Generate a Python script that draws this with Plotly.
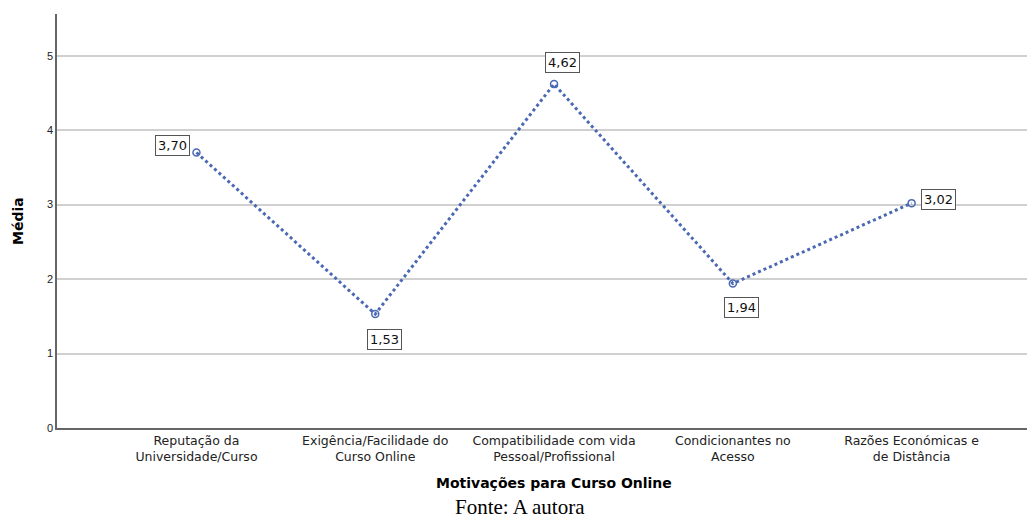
import plotly.graph_objects as go

categories = ["Reputação da<br>Universidade/Curso",
              "Exigência/Facilidade do<br>Curso Online",
              "Compatibilidade com vida<br>Pessoal/Profissional",
              "Condicionantes no<br>Acesso",
              "Razões Económicas e<br>de Distância"]
values = [3.70, 1.53, 4.62, 1.94, 3.02]
value_labels = ["3,70", "1,53", "4,62", "1,94", "3,02"]
y_ticks = [0, 1, 2, 3, 4, 5]

color = "#4a68b4"
xs = list(range(len(categories)))

fig = go.Figure()
fig.add_trace(go.Scatter(
    x=xs, y=values, mode="lines+markers",
    line=dict(color=color, width=3, dash="dot"),
    marker=dict(symbol="circle-open", size=7, color=color, line=dict(width=1.5, color=color)),
    showlegend=False, hoverinfo="skip"))

# label placement: (xanchor, yanchor, xshift, yshift)
placements = [("right", "middle", -6, 7),
              ("center", "top", 9, -15),
              ("center", "bottom", 8, 11),
              ("center", "top", 9, -13),
              ("left", "middle", 9, 4)]
for x, v, t, (xa, ya, xs_, ys_) in zip(xs, values, value_labels, placements):
    fig.add_annotation(x=x, y=v, xref="x", yref="y", text=t, showarrow=False,
                       xanchor=xa, yanchor=ya, xshift=xs_, yshift=ys_,
                       font=dict(family="DejaVu Sans", size=13, color="#111"),
                       bgcolor="white", bordercolor="#555", borderwidth=1, borderpad=2)

fig.add_annotation(text="<b>Motivações para Curso Online</b>", xref="paper", yref="paper",
                   x=0.508, y=-0.133, xanchor="center", yanchor="middle", showarrow=False,
                   font=dict(family="DejaVu Sans", size=14, color="black"))
fig.add_annotation(text="Fonte: A autora", xref="paper", yref="paper",
                   x=0.473, y=-0.19, xanchor="center", yanchor="middle", showarrow=False,
                   font=dict(family="Liberation Serif, Times New Roman", size=21, color="black"))
fig.add_annotation(text="<b>Média</b>", xref="paper", yref="paper",
                   x=-0.04, y=0.5, xanchor="center", yanchor="middle", showarrow=False,
                   textangle=-90,
                   font=dict(family="DejaVu Sans", size=14, color="black"))

fig.update_xaxes(range=[-0.78, 4.69], tickmode="array", tickvals=xs, ticktext=categories,
                 showgrid=False, zeroline=False, showline=True, linecolor="#666", linewidth=1.5,
                 ticks="", tickfont=dict(family="DejaVu Sans", size=12.5, color="#222"))
fig.update_yaxes(range=[0, 5.56], tickmode="array", tickvals=y_ticks,
                 ticktext=[str(v) for v in y_ticks],
                 showgrid=True, gridcolor="#d0d0d0", gridwidth=1.5, zeroline=False,
                 showline=True, linecolor="#666", linewidth=1.5, ticks="",
                 tickfont=dict(family="Liberation Sans, Arial", size=11, color="#222"))

fig.update_layout(width=1027, height=510, margin=dict(l=49, r=0, t=6, b=90),
                  plot_bgcolor="white", paper_bgcolor="white")
fig.write_html("out.html")
